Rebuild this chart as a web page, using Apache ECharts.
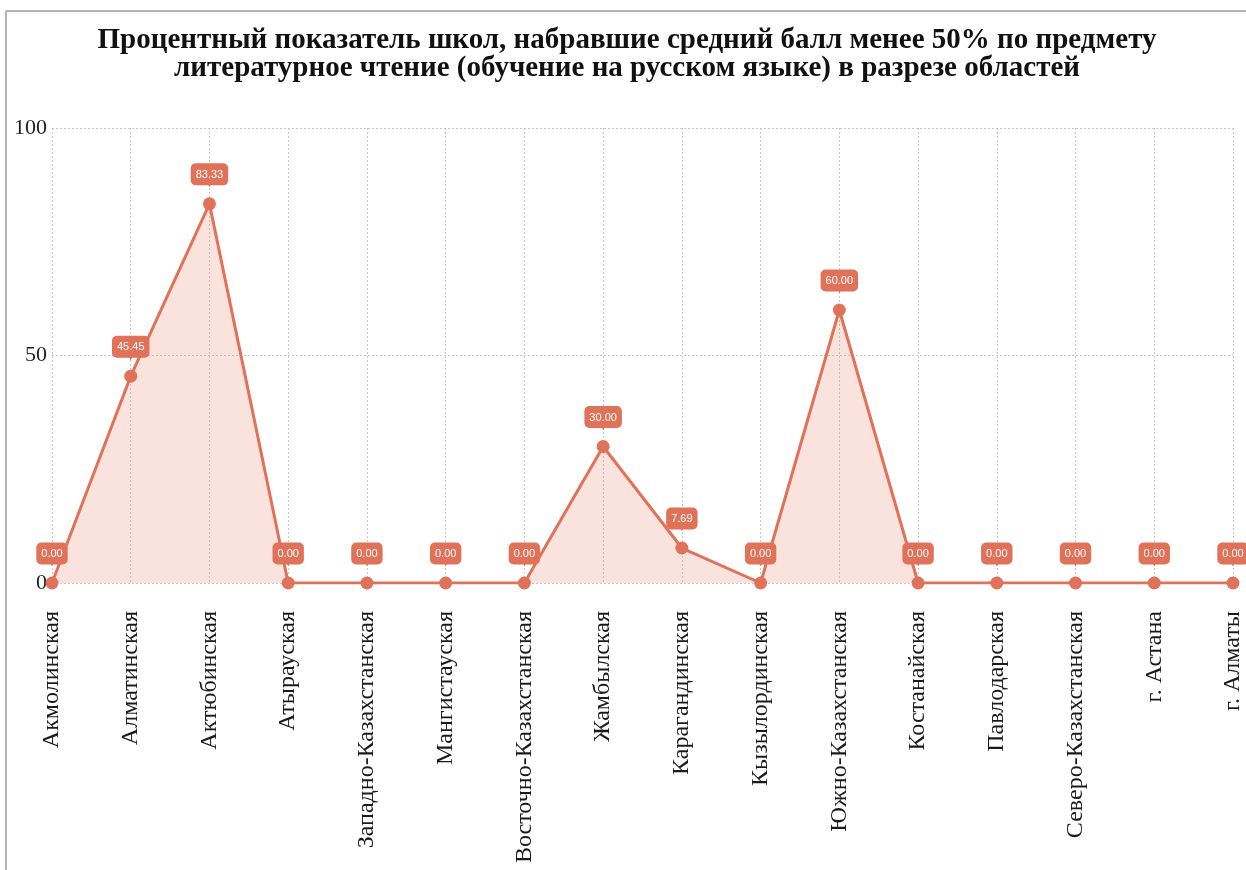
<!DOCTYPE html>
<html>
<head>
<meta charset="utf-8">
<script src="https://cdn.jsdelivr.net/npm/echarts@6/dist/echarts.min.js"></script>
<style>
html,body{margin:0;padding:0;background:#fff;overflow:hidden;}
#c{width:1246px;height:870px;}
</style>
</head>
<body>
<div id="c"></div>
<script>
const titleLines = [
  'Процентный показатель школ, набравшие средний балл менее 50% по предмету',
  'литературное чтение (обучение на русском языке) в разрезе областей'
];
const categories = ['Акмолинская','Алматинская','Актюбинская','Атырауская','Западно-Казахстанская','Мангистауская','Восточно-Казахстанская','Жамбылская','Карагандинская','Кызылординская','Южно-Казахстанская','Костанайская','Павлодарская','Северо-Казахстанская','г. Астана','г. Алматы'];
const values = [0, 45.45, 83.33, 0, 0, 0, 0, 30.00, 7.69, 0, 60.00, 0, 0, 0, 0, 0];
const yTicks = [0, 50, 100];

const lineColor = '#e0725a';
const serif = '"Liberation Serif","Times New Roman",serif';

const chart = echarts.init(document.getElementById('c'));
chart.setOption({
  backgroundColor: '#fff',
  animation: false,
  graphic: [
    {type:'line', shape:{x1:6,y1:11,x2:1246,y2:11}, style:{stroke:'#b5b5b5',lineWidth:2}},
    {type:'line', shape:{x1:6,y1:11,x2:6,y2:870}, style:{stroke:'#b5b5b5',lineWidth:2}},
    {type:'text', x:627, y:26, style:{text:titleLines[0], font:'bold 29px ' + serif, fill:'#111', textAlign:'center', textVerticalAlign:'top'}},
    {type:'text', x:627, y:54, style:{text:titleLines[1], font:'bold 29px ' + serif, fill:'#111', textAlign:'center', textVerticalAlign:'top'}}
  ],
  grid: {left:52, right:13, top:128, bottom:287, containLabel:false, outerBoundsMode:'none'},
  xAxis: {
    type:'category',
    data: categories,
    boundaryGap:false,
    axisLine:{show:false},
    axisTick:{show:false},
    axisLabel:{rotate:90, margin:28, fontFamily:serif, fontSize:24, color:'#1a1a1a', interval:0},
    splitLine:{show:true, lineStyle:{type:[2,2], color:'#c8c8c8', width:1}}
  },
  yAxis: {
    type:'value',
    min:yTicks[0], max:yTicks[yTicks.length-1], interval:50,
    axisLine:{show:false},
    axisTick:{show:false},
    axisLabel:{margin:5, fontFamily:serif, fontSize:22, color:'#222', padding:[16,0,0,0]},
    splitLine:{show:true, lineStyle:{type:[2,2], color:'#c8c8c8', width:1}}
  },
  series: [{
    type:'line',
    data: values,
    color: lineColor,
    symbol:'circle',
    symbolSize:13,
    lineStyle:{width:3, color:lineColor},
    itemStyle:{color:lineColor},
    areaStyle:{color:'rgba(240,150,128,0.38)'},
    label:{
      show:true,
      position:'top',
      distance:10,
      formatter: p => '{box|' + Number(p.value).toFixed(2) + '}\n{arr|▼}',
      rich:{
        box:{backgroundColor:lineColor, color:'#fff', fontFamily:'"Liberation Sans",Arial,sans-serif', fontSize:11, borderRadius:5, padding:[6,5,5,5], lineHeight:12},
        arr:{color:lineColor, fontSize:12, lineHeight:7, align:'center'}
      }
    }
  }]
});
</script>
</body>
</html>
